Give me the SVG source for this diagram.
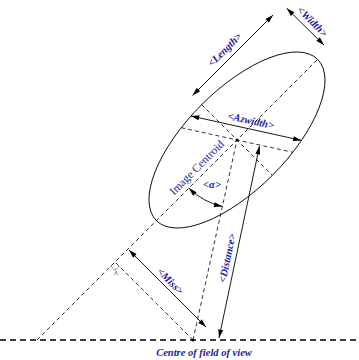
<svg xmlns="http://www.w3.org/2000/svg" width="359" height="360" viewBox="0 0 359 360">
<defs>
<style>
.s{fill:none;stroke:#000;stroke-width:0.9}
.d{fill:none;stroke:#000;stroke-width:0.8;stroke-dasharray:4 3}
.h{fill:none;stroke:#000;stroke-width:1.3;stroke-dasharray:6 4}
.a{marker-start:url(#ah);marker-end:url(#ah)}
.t{font-family:"Liberation Serif","Times New Roman",serif;font-size:10.5px;font-weight:bold;font-style:italic;fill:#1c1c96;text-anchor:middle}
.r{font-family:"Liberation Serif","Times New Roman",serif;font-size:11.5px;fill:#1c1c96;text-anchor:middle}
</style>
<marker id="ah" viewBox="0 0 10 6" refX="10" refY="3" markerWidth="9" markerHeight="5" markerUnits="userSpaceOnUse" orient="auto-start-reverse">
<path d="M0,0 L10,3 L0,6 z" fill="#000"/>
</marker>
</defs>
<rect width="359" height="360" fill="#fff"/>
<g id="ellipse">
<ellipse cx="237" cy="140" rx="114" ry="50" transform="rotate(-45 237 140)" class="s"/>
<circle cx="237" cy="140" r="1.5" fill="#000"/>
</g>
<g id="field-centre">
<circle cx="193" cy="340" r="1.5" fill="#000"/>
</g>
<g id="connectors">
<line class="h" x1="0" y1="340" x2="359" y2="340"/>
<line class="d" x1="37" y1="340" x2="317.6" y2="59.4"/>
<line class="d" x1="201.6" y1="104.6" x2="272.4" y2="175.4"/>
<line class="d" x1="181.2" y1="127.7" x2="292.8" y2="152.3"/>
<line class="d" x1="193" y1="340" x2="237" y2="140"/>
<line class="d" x1="193" y1="340" x2="115" y2="262"/>
<polyline class="d" style="stroke-dasharray:2 1.5" points="110.8,266.2 115,270.5 119.2,266.2"/>
<line class="s a" x1="192.5" y1="95.5" x2="273.1" y2="14.9"/>
<line class="s a" x1="286.7" y1="8.3" x2="324" y2="45"/>
<line class="s a" x1="190.9" y1="116" x2="301.5" y2="140.4"/>
<line class="s a" x1="129" y1="250" x2="206" y2="327"/>
<line class="s a" x1="259.5" y1="146" x2="219" y2="338"/>
<path class="s a" d="M188.9,188.1 A68,68 0 0,0 222.4,206.4"/>
</g>
<g id="labels">
<text class="t" transform="translate(224.5,49.5) rotate(-45)" dy="0.35em">&lt;Length&gt;</text>
<text class="t" transform="translate(312.5,21.5) rotate(45)" dy="0.35em">&lt;Width&gt;</text>
<text class="t" transform="translate(251,120.5) rotate(12.4)" dy="0.35em">&lt;Azwidth&gt;</text>
<text class="r" transform="translate(196.5,167.5) rotate(-45)" dy="0.35em">Image Centroid</text>
<text class="t" transform="translate(212,184)" dy="0.35em">&lt;α&gt;</text>
<text class="t" transform="translate(170.5,281) rotate(45)" dy="0.35em">&lt;Miss&gt;</text>
<text class="t" transform="translate(227,258) rotate(-78)" dy="0.35em">&lt;Distance&gt;</text>
<text class="t" style="font-size:8px" x="116" y="277">^</text>
<text class="t" style="font-size:10.5px" x="204" y="356">Centre of field of view</text>
</g>
</svg>
